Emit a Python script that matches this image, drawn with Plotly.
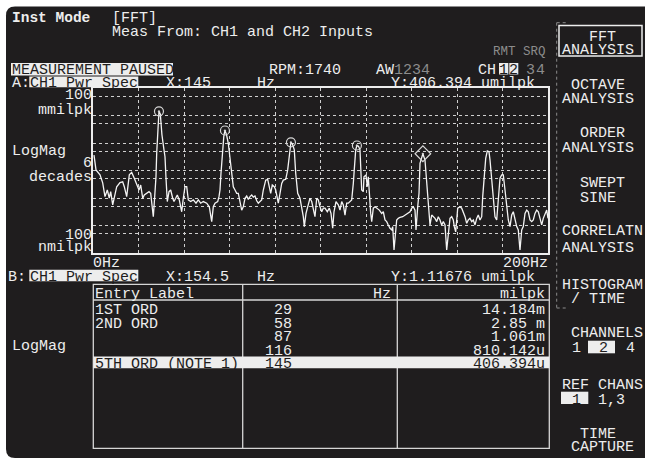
import plotly.graph_objects as go

W, H = 645, 459
BG = "#1f1d1e"
FG = "#ededed"
DIM = "#8c8c8c"
GRID = "#cfcfcf"
FONT = "Liberation Mono"

# trace A: CH1 power spectrum, frequency (Hz) and LogMag (log10 of milpk)
freq_hz = [
    0.44, 1.32, 3.08, 4.26, 5.27, 6.29, 7.16, 7.78, 8.66, 9.67, 10.42, 11.87, 13.05, 13.76,
    14.81, 15.96, 17.01, 18.15, 19.21, 20.22, 20.97, 21.85, 22.55, 23.60, 24.62, 25.36,
    25.94, 26.51, 27.12, 27.69, 28.00, 28.6, 29.0, 29.6, 30.3, 31.2, 31.65, 32.09, 32.66,
    33.41, 34.15, 35.03, 35.60, 36.35, 37.05, 37.93, 38.99, 39.69, 40.44, 41.19, 41.89,
    42.94, 44.09, 45.27, 46.29, 47.34, 48.48, 49.98, 51.12, 52.18, 52.88, 53.63, 54.81,
    55.38, 55.82, 56.26, 56.84, 57.5, 58.0, 58.7, 59.47, 60.22, 60.97, 61.67, 62.42, 63.17,
    63.87, 64.62, 65.36, 66.07, 66.81, 67.56, 68.27, 69.01, 69.76, 70.46, 71.21, 71.96,
    72.66, 73.41, 74.15, 74.86, 75.91, 76.79, 77.36, 78.11, 78.81, 79.69, 80.31, 80.75,
    81.45, 82.20, 82.95, 83.65, 84.71, 85.58, 86.15, 86.6, 87.0, 87.7, 88.48, 89.10, 89.98,
    90.99, 91.74, 92.44, 92.88, 93.63, 94.37, 95.38, 96.13, 96.83, 97.58, 98.33, 99.03,
    99.78, 100.53, 101.23, 101.98, 102.99, 103.87, 104.62, 105.36, 105.93, 106.81, 107.82,
    108.57, 109.32, 110.02, 110.77, 111.51, 112.22, 112.97, 113.71, 114.42, 114.86, 115.47,
    116.0, 116.7, 117.36, 117.67, 118.11, 118.81, 119.12, 120.00, 120.57, 121.01, 121.45,
    122.07, 122.51, 123.21, 123.96, 124.97, 125.85, 126.90, 127.61, 128.35, 129.10, 129.80,
    130.55, 131.30, 131.74, 132.31, 132.88, 133.49, 134.20, 134.95, 136.13, 137.14, 138.15,
    139.34, 140.09, 140.79, 141.54, 141.98, 142.73, 143.30, 143.74, 144.48, 145.0, 145.93,
    146.68, 147.38, 148.13, 148.88, 149.58, 150.33, 151.08, 151.78, 152.53, 153.27, 153.98,
    154.73, 155.47, 156.18, 156.92, 157.67, 158.37, 158.81, 159.43, 160.31, 161.32, 162.07,
    162.77, 163.52, 164.26, 164.97, 165.71, 166.46, 167.16, 167.91, 168.66, 169.36, 170.11,
    170.86, 171.30, 172.00, 172.62, 173.32, 174.07, 174.51, 175.25, 175.96, 176.70, 177.45,
    178.15, 178.90, 179.65, 180.35, 181.10, 181.85, 182.55, 183.30, 184.04, 184.75, 185.49,
    186.24, 186.94, 187.69, 188.44, 189.14, 189.89, 190.64, 191.34, 192.09, 192.84, 193.54,
    194.29, 195.03, 195.74, 196.48, 197.23, 197.93, 198.68, 199.43, 200.0,
]
level_log = [
    -3.44, -3.98, -4.16, -4.45, -4.95, -4.71, -5.00, -4.77, -5.25, -4.89, -4.59, -4.44, -4.41, -4.59,
    -4.95, -4.16, -4.07, -4.28, -4.47, -4.71, -4.53, -5.01, -4.89, -4.83, -4.77, -4.83,
    -5.19, -5.68, -4.95, -4.23, -3.37, -2.05, -1.848, -1.95, -2.70, -3.25, -3.50, -4.28, -5.13,
    -4.77, -4.71, -5.01, -5.13, -5.01, -4.89, -5.07, -5.50, -5.01, -4.59, -4.59, -5.07,
    -5.13, -5.07, -5.19, -5.07, -5.19, -5.13, -5.19, -5.32, -5.86, -5.32, -5.19, -5.13,
    -4.95, -4.71, -4.10, -3.37, -2.75, -2.545, -2.70, -3.01, -3.62, -4.23, -4.59, -4.71, -4.83,
    -4.83, -5.19, -5.44, -5.32, -5.01, -4.93, -5.05, -4.95, -4.89, -4.97, -4.93, -5.10,
    -5.19, -5.13, -5.07, -4.71, -4.35, -4.32, -4.59, -4.83, -4.53, -4.59, -4.71, -4.89,
    -5.19, -4.83, -4.47, -4.35, -4.32, -3.98, -3.62, -3.15, -2.974, -3.05, -3.25, -4.10, -4.83,
    -5.01, -5.32, -5.68, -6.04, -5.56, -5.32, -5.01, -5.13, -5.44, -5.68, -5.01, -5.07,
    -5.32, -5.50, -5.37, -5.37, -5.50, -5.37, -5.56, -6.10, -5.50, -5.13, -5.25,
    -5.44, -5.13, -5.25, -5.62, -5.19, -5.19, -5.13, -5.07, -4.47, -3.86, -3.25,
    -3.091, -3.12, -3.25, -3.98, -4.71, -4.77, -4.23, -4.16, -4.59, -4.23, -5.01,
    -5.56, -5.86, -5.37, -5.32, -5.37, -5.44, -5.56, -5.50, -5.80, -5.86, -5.98,
    -6.10, -6.16, -6.04, -6.89, -6.28, -5.80, -5.74, -5.70, -5.68, -5.62, -5.58,
    -5.50, -5.37, -5.32, -5.44, -6.16, -5.32, -4.83, -3.74, -3.56, -3.391, -3.62,
    -4.35, -5.32, -5.98, -5.62, -5.68, -5.74, -5.86, -5.68, -5.80, -5.98, -5.86,
    -5.98, -6.89, -6.16, -5.74, -5.68, -5.80, -6.04, -6.23, -5.37, -5.32, -5.37,
    -5.50, -5.68, -5.92, -5.80, -5.74, -5.86, -5.80, -5.98, -5.74, -5.62, -5.80,
    -5.68, -4.95, -4.10, -3.56, -3.29, -3.32, -3.62, -4.35, -5.19, -5.68, -5.80,
    -4.95, -4.28, -4.16, -4.16, -4.71, -5.32, -5.80, -6.04, -5.62, -5.50, -5.80,
    -6.04, -6.16, -6.89, -6.16, -6.04, -5.56, -5.44, -5.50, -5.80, -5.86, -5.80,
    -5.56, -5.44, -5.50, -5.74, -5.98, -5.74, -5.56, -5.44, -5.74,
]

# order table (trace B)
order_hz = [29, 58, 87, 116, 145]
order_milpk = [14.184e-3, 2.85e-3, 1.061e-3, 810.142e-6, 406.394e-6]
order_text = ["14.184m", "2.85 m", "1.061m", "810.142u", "406.394u"]
entry_labels = ["1ST ORD", "2ND ORD", "", "", "5TH ORD (NOTE 1)"]

y_grid = [5e-2, 1e-2, 5e-3, 1e-3, 5e-4, 1e-4, 5e-5, 1e-5, 5e-6, 1e-6, 5e-7]
x_grid = [20, 40, 60, 80, 100, 120, 140, 160, 180]

softkeys = [
    ("   FFT", "ANALYSIS"), (" OCTAVE", "ANALYSIS"), ("  ORDER", "ANALYSIS"),
    ("  SWEPT", "  SINE"), ("CORRELATN", "ANALYSIS"), ("HISTOGRAM", " / TIME"),
]


def px(x):
    return x / W


def py(y):
    return 1 - y / H


annotations = []
shapes = []


def text(x, y, s, anchor="left", color=FG, size=15, bold=False):
    s = s.replace(" ", "\u00a0")
    if bold:
        s = "<b>" + s + "</b>"
    # Liberation Mono sits a little high when middle-anchored
    annotations.append(dict(
        x=px(x), y=py(y + 1.8), xref="paper", yref="paper", text=s, showarrow=False,
        xanchor=anchor, yanchor="middle", borderpad=0, borderwidth=0,
        font=dict(family=FONT, size=size, color=color),
    ))


def box(x0, y0, x1, y1, fill=None, line=None, width=1, dash=None):
    shapes.append(dict(
        type="rect", xref="paper", yref="paper",
        x0=px(x0), x1=px(x1), y0=py(y1), y1=py(y0),
        fillcolor=fill if fill else "rgba(0,0,0,0)",
        line=dict(color=line if line else "rgba(0,0,0,0)", width=width if line else 0, dash=dash),
    ))


def seg(x0, y0, x1, y1, color=FG, width=1, dash=None):
    shapes.append(dict(
        type="line", xref="paper", yref="paper",
        x0=px(x0), x1=px(x1), y0=py(y0), y1=py(y1),
        line=dict(color=color, width=width, dash=dash),
    ))


# screen background with rounded left corners
r, a0, b0, a1, b1 = 9, 6, 6.5, 660, 458
path = (f"M {px(a0 + r)},{py(b0)} L {px(a1)},{py(b0)} L {px(a1)},{py(b1)} L {px(a0 + r)},{py(b1)} "
        f"Q {px(a0)},{py(b1)} {px(a0)},{py(b1 - r)} L {px(a0)},{py(b0 + r)} "
        f"Q {px(a0)},{py(b0)} {px(a0 + r)},{py(b0)} Z")
shapes.append(dict(type="path", xref="paper", yref="paper", path=path,
                   fillcolor=BG, line=dict(width=0), layer="below"))

# header
text(12, 16.5, "Inst Mode", size=14.5, bold=True)
text(112, 16.5, "[FFT]")
text(112, 30.5, "Meas From: CH1 and CH2 Inputs")
text(493, 50, "RMT SRQ", color=DIM, size=12.5)

box(11, 63, 173, 75.5, fill=FG)
text(12, 69, "MEASUREMENT PAUSED", color=BG)
text(269, 69, "RPM:1740")
text(376, 69, "AW")
text(394, 69, "1234", color=DIM)
text(478, 69, "CH")
box(499, 63, 508.3, 74.5, fill=FG)
box(509.3, 63, 518.3, 74.5, fill=FG)
text(503.7, 69, "1", anchor="center", color=BG)
text(513.8, 69, "2", anchor="center", color=BG)
text(530, 69, "3", anchor="center", color=DIM)
text(540, 69, "4", anchor="center", color=DIM)

text(11.7, 82, "A:")
box(29.3, 76.5, 138.3, 87.3, fill=FG)
text(30, 82, "CH1 Pwr Spec", color=BG)
text(165.7, 82, "X:145")
text(256.7, 82, "Hz")
text(535, 81.5, "Y:406.394 umilpk", anchor="right")

# y axis labels of trace A
text(91.5, 93.3, "100", anchor="right")
text(91.5, 108.3, "mmilpk", anchor="right")
text(12, 149.3, "LogMag")
text(91.5, 161.7, "6", anchor="right")
text(91.5, 176, "decades", anchor="right")
text(91.5, 233.3, "100", anchor="right")
text(91.5, 246, "nmilpk", anchor="right")
text(93, 261.5, "0Hz")
text(548, 261.5, "200Hz", anchor="right")

# trace B header + table
text(8.3, 275.5, "B:")
box(29.3, 269.8, 138.3, 281.3, fill=FG)
text(30, 275.5, "CH1 Pwr Spec", color=BG)
text(166, 275.5, "X:154.5")
text(256.7, 275.5, "Hz")
text(535, 276, "Y:1.11676 umilpk", anchor="right")
text(12, 345, "LogMag")

TL, TR, TT, TB = 93.3, 549.3, 284.3, 448.3
box(TL, TT, TR, TB, line="#d6d6d6", width=1.3)
seg(TL, 300, TR, 300, color="#d6d6d6", width=1.3)
seg(242.7, TT, 242.7, TB, color="#d6d6d6", width=1.3)
seg(397.3, TT, 397.3, TB, color="#d6d6d6", width=1.3)
text(95, 292.5, "Entry Label")
text(391, 292.5, "Hz", anchor="right")
text(545, 292.5, "milpk", anchor="right")

row_y = [309, 322.4, 335.8, 349.2, 362.6]
sel = 4
box(TL, row_y[sel] - 6, TR, row_y[sel] + 5.7, fill=FG)
for i, ry in enumerate(row_y):
    c = BG if i == sel else FG
    if entry_labels[i]:
        text(95, ry, entry_labels[i], color=c)
    text(292, ry, str(order_hz[i]), anchor="right", color=c)
    text(545, ry, order_text[i], anchor="right", color=c)

# softkey menu
seg(556.7, 22.7, 556.7, 308, color=DIM, width=1, dash="dot")
seg(556.7, 22.7, 566, 22.7, color=DIM, width=1, dash="dot")
seg(556.7, 308, 566, 308, color=DIM, width=1, dash="dot")
box(559, 25.5, 642, 56, line=FG, width=1.5)
key_y = [(36, 48.5), (83.3, 97.5), (131.7, 146.5), (181.7, 196.5), (230, 246.5), (283.3, 297.3)]
for (l1, l2), (y1, y2) in zip(softkeys, key_y):
    text(561.7, y1, l1)
    text(561.7, y2, l2)

text(561.7, 331.7, " CHANNELS")
box(588, 340.7, 615, 353.3, fill=FG)
text(571.7, 346.7, "1")
text(598.7, 346.7, "2", color=BG)
text(625.7, 346.7, "4")
text(561.7, 384, "REF CHANS")
box(561, 391.7, 588.3, 404, fill=FG)
text(571.7, 398.5, "1", color=BG)
text(598.3, 398.5, "1,3")
text(561.7, 432.3, "  TIME")
text(561.7, 445.7, " CAPTURE")

fig = go.Figure()
fig.add_trace(go.Scatter(
    x=freq_hz, y=[10 ** v for v in level_log], mode="lines",
    line=dict(color="#f4f4f4", width=1.3), hoverinfo="skip",
))
fig.add_trace(go.Scatter(
    x=order_hz[:4], y=order_milpk[:4], mode="markers",
    marker=dict(symbol="circle-open-dot", size=9, color="#d8d8d8", line=dict(width=1.2)),
))
fig.add_trace(go.Scatter(
    x=order_hz[4:], y=order_milpk[4:], mode="markers",
    marker=dict(symbol="diamond-open-dot", size=12, color="#d8d8d8", line=dict(width=1.2)),
))

fig.update_layout(
    width=W, height=H, margin=dict(l=0, r=0, t=0, b=0),
    paper_bgcolor="white", plot_bgcolor=BG, showlegend=False,
    xaxis=dict(
        domain=[px(93), px(548)], range=[0, 200], tickvals=x_grid, showticklabels=False,
        ticks="", showgrid=True, gridcolor=GRID, griddash="dot", gridwidth=1.3,
        showline=True, mirror=True, linecolor=FG, linewidth=1.5, zeroline=False,
    ),
    yaxis=dict(
        domain=[py(253), py(88)], type="log", range=[-7, -1], tickvals=y_grid,
        showticklabels=False, ticks="", showgrid=True, gridcolor=GRID, griddash="dot",
        gridwidth=1.3, showline=True, mirror=True, linecolor=FG, linewidth=1.5, zeroline=False,
    ),
    shapes=shapes, annotations=annotations,
)

# page body has a default 8px margin; drop it so the figure sits at the window origin
fig.write_html("out.html", config={"displayModeBar": False},
               post_script="document.body.style.margin='0';")
